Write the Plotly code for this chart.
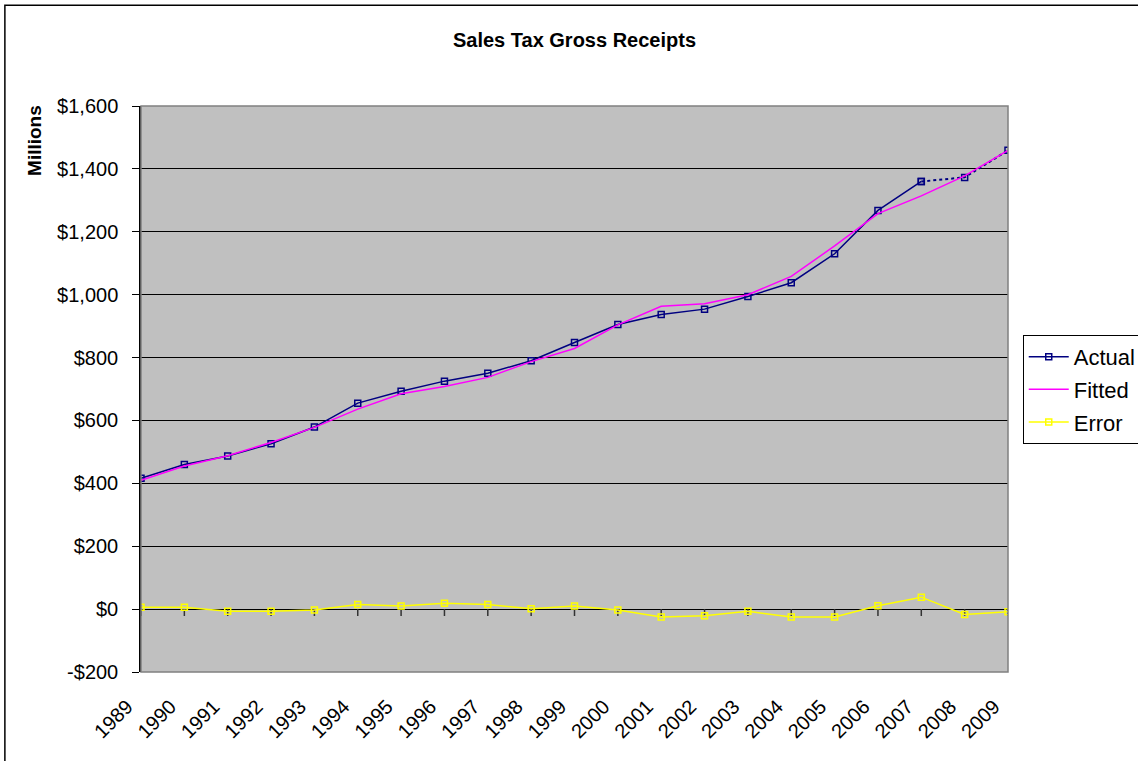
import plotly.graph_objects as go

years = list(range(1989, 2010))

actual = [416, 460, 487, 526, 579, 655, 693, 725, 750, 790, 848,
          905, 937, 954, 994, 1038, 1130, 1268, 1360, 1373, 1459]
fitted = [410, 455, 488, 530, 578, 636, 685, 708, 737, 787, 829,
          904, 963, 971, 1000, 1058, 1155, 1258, 1314, 1378, 1459]
error = [6, 6, -7, -7, -3, 15, 10, 19, 15, 1, 10,
         -3, -25, -21, -7, -25, -25, 11, 38, -17, -8]

y_ticks = [-200, 0, 200, 400, 600, 800, 1000, 1200, 1400, 1600]
y_labels = ['-$200', '$0', '$200', '$400', '$600', '$800',
            '$1,000', '$1,200', '$1,400', '$1,600']

# the last three actual points are joined by a dotted line
solid_n = 19

font = dict(family='Arial, Liberation Sans, sans-serif', size=20, color='black')
navy = '#000080'

fig = go.Figure()

# tick marks hanging from the $0 line (category axis crosses at zero)
fig.add_trace(go.Scatter(
    x=years, y=[0] * len(years),
    mode='markers',
    marker=dict(size=1, color='rgba(0,0,0,0)'),
    error_y=dict(type='data', symmetric=False, array=[0] * len(years),
                 arrayminus=[22] * len(years), color='#333333',
                 thickness=1.5, width=0),
    showlegend=False, hoverinfo='skip',
))

fig.add_trace(go.Scatter(
    x=years[:solid_n], y=actual[:solid_n], name='Actual',
    legendgroup='a',
    mode='lines+markers',
    line=dict(color=navy, width=1.5),
    marker=dict(symbol='square-open', size=6, color=navy,
                line=dict(width=1.5)),
))
fig.add_trace(go.Scatter(
    x=years[solid_n - 1:], y=actual[solid_n - 1:], name='Actual',
    legendgroup='a',
    mode='lines+markers',
    line=dict(color=navy, width=2, dash='dot'),
    marker=dict(symbol='square-open', size=6, color=navy,
                line=dict(width=1.5)),
    showlegend=False,
))
fig.add_trace(go.Scatter(
    x=years, y=fitted, name='Fitted',
    legendgroup='f',
    mode='lines',
    line=dict(color='#FF00FF', width=1.5),
))
fig.add_trace(go.Scatter(
    x=years, y=error, name='Error',
    legendgroup='e',
    mode='lines+markers',
    line=dict(color='#FFFF00', width=1.5),
    marker=dict(symbol='square-open', size=6, color='#FFFF00',
                line=dict(width=1.5)),
))

fig.update_layout(
    width=1138,
    height=761,
    font=font,
    paper_bgcolor='white',
    plot_bgcolor='#C0C0C0',
    margin=dict(l=141, r=130, t=106, b=89, autoexpand=False),
    title=dict(text='<b>Sales Tax Gross Receipts</b>', x=0.5, xanchor='center',
               xref='paper', y=1 - 40 / 761, yanchor='middle',
               font=dict(size=20)),
    legend=dict(x=1.017, y=0.5955, xanchor='left', yanchor='top',
                bordercolor='black', borderwidth=1, bgcolor='white',
                font=dict(size=22), tracegroupgap=1, itemwidth=40),
    showlegend=True,
    annotations=[dict(
        text='<b>Millions</b>', textangle=-90, showarrow=False,
        xref='paper', yref='paper', x=-0.1223, y=0.94,
        xanchor='center', yanchor='middle', font=dict(size=19),
    )],
    shapes=[
        dict(type='rect', xref='paper', yref='paper',
             x0=-0.157, x1=1.3, y0=-0.3, y1=1.178,
             line=dict(color='black', width=1.5), layer='below'),
        dict(type='rect', xref='paper', yref='paper',
             x0=0, x1=1, y0=0, y1=1,
             line=dict(color='#808080', width=1.5)),
    ],
)

fig.update_xaxes(
    range=[1989, 2009],
    tickvals=years,
    ticktext=[str(y) for y in years],
    tickangle=-45,
    ticks='',
    ticklabelstandoff=18,
    ticklabelshift=-14,
    showgrid=False,
    zeroline=False,
    showline=False,
)

fig.update_yaxes(
    range=[-200, 1600],
    tickvals=y_ticks,
    ticktext=y_labels,
    ticks='outside',
    ticklen=7,
    tickcolor='black',
    ticklabelstandoff=10,
    showgrid=True,
    gridcolor='black',
    gridwidth=1,
    zeroline=False,
    showline=True,
    linecolor='black',
    linewidth=1.5,
)

# drop the page's default body margin so the figure fills the window
fig.write_html('out.html', config={'displayModeBar': False},
               post_script="document.body.style.margin='0';")
